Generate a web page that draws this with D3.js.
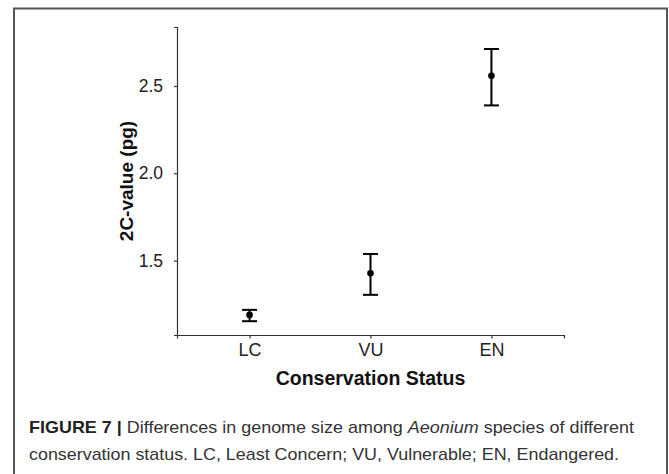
<!DOCTYPE html>
<html>
<head>
<meta charset="utf-8">
<script src="https://cdn.jsdelivr.net/npm/d3@7"></script>
<style>
  html, body { margin: 0; padding: 0; background: #fff; }
  svg { display: block; }
</style>
</head>
<body>
<svg id="chart" width="669" height="474"></svg>
<script>
// ---- data ----
const categories = ["LC", "VU", "EN"];
const means = [1.189, 1.428, 2.559];
const lower = [1.153, 1.304, 2.389];
const upper = [1.218, 1.538, 2.712];
const yTicks = [1.5, 2.0, 2.5];
const yTickLabels = ["1.5", "2.0", "2.5"];
const xTitle = "Conservation Status";
const yTitle = "2C-value (pg)";

const svg = d3.select("#chart");

// frame
svg.append("path")
  .attr("d", "M14,480 L14,8.5 L667,8.5 L667,480")
  .attr("fill", "none")
  .attr("stroke", "#555")
  .attr("stroke-width", 2);

const plot = { left: 177, right: 564, top: 27, bottom: 335 };

const x = d3.scalePoint().domain(categories)
  .range([plot.left, plot.right]).padding(0.6);
const y = d3.scaleLinear().domain([1.074, 2.838])
  .range([plot.bottom, plot.top]);

// y axis
const yAxis = svg.append("g")
  .attr("transform", `translate(${plot.left},0)`)
  .call(d3.axisLeft(y).tickValues(yTicks)
    .tickFormat((d, i) => yTickLabels[i]).tickSize(3).tickPadding(11));
yAxis.select(".domain").attr("stroke", "#333").attr("stroke-width", 1.2);
yAxis.selectAll(".tick line").attr("stroke", "#333").attr("stroke-width", 1.2);
yAxis.selectAll(".tick text")
  .attr("font-family", "Liberation Sans, Arial, sans-serif")
  .attr("font-size", 17.5).attr("fill", "#222");

// x axis
const xAxis = svg.append("g")
  .attr("transform", `translate(0,${plot.bottom})`)
  .call(d3.axisBottom(x).tickSize(3.5).tickPadding(5));
xAxis.select(".domain").attr("stroke", "#333").attr("stroke-width", 1.2);
xAxis.selectAll(".tick line").attr("stroke", "#333").attr("stroke-width", 1.2);
xAxis.selectAll(".tick text")
  .attr("font-family", "Liberation Sans, Arial, sans-serif")
  .attr("font-size", 18).attr("fill", "#222");

// axis titles
svg.append("text")
  .attr("x", (plot.left + plot.right) / 2).attr("y", 385)
  .attr("text-anchor", "middle")
  .attr("font-family", "Liberation Sans, Arial, sans-serif")
  .attr("font-weight", "bold").attr("font-size", 19.5).attr("fill", "#111")
  .text(xTitle);

svg.append("text")
  .attr("transform", `translate(133,${(plot.top + plot.bottom) / 2}) rotate(-90)`)
  .attr("text-anchor", "middle")
  .attr("font-family", "Liberation Sans, Arial, sans-serif")
  .attr("font-weight", "bold").attr("font-size", 19).attr("fill", "#111")
  .text(yTitle);

// error bars and points
const data = categories.map((c, i) => ({ c, m: means[i], lo: lower[i], hi: upper[i] }));
const capW = 7.5;
const g = svg.append("g").attr("stroke", "#000").attr("stroke-width", 2);
data.forEach(d => {
  const cx = x(d.c);
  g.append("line").attr("x1", cx).attr("x2", cx).attr("y1", y(d.lo)).attr("y2", y(d.hi));
  g.append("line").attr("x1", cx - capW).attr("x2", cx + capW).attr("y1", y(d.lo)).attr("y2", y(d.lo));
  g.append("line").attr("x1", cx - capW).attr("x2", cx + capW).attr("y1", y(d.hi)).attr("y2", y(d.hi));
});
svg.append("g").selectAll("circle").data(data).join("circle")
  .attr("cx", d => x(d.c)).attr("cy", d => y(d.m)).attr("r", 3.3).attr("fill", "#000");

// caption
const cap1 = svg.append("text")
  .attr("x", 29).attr("y", 433)
  .attr("font-family", "Liberation Sans Narrow, Arial Narrow, Liberation Sans, Arial, sans-serif")
  .attr("font-size", 17).attr("fill", "#333")
  .attr("textLength", 605).attr("lengthAdjust", "spacingAndGlyphs");
cap1.append("tspan").attr("font-weight", "bold").attr("fill", "#222").text("FIGURE 7 | ");
cap1.append("tspan").text("Differences in genome size among ");
cap1.append("tspan").attr("font-style", "italic").text("Aeonium");
cap1.append("tspan").text(" species of different");

svg.append("text")
  .attr("x", 29).attr("y", 460)
  .attr("font-family", "Liberation Sans Narrow, Arial Narrow, Liberation Sans, Arial, sans-serif")
  .attr("font-size", 17).attr("fill", "#333")
  .attr("textLength", 590).attr("lengthAdjust", "spacingAndGlyphs")
  .text("conservation status. LC, Least Concern; VU, Vulnerable; EN, Endangered.");
</script>
</body>
</html>
